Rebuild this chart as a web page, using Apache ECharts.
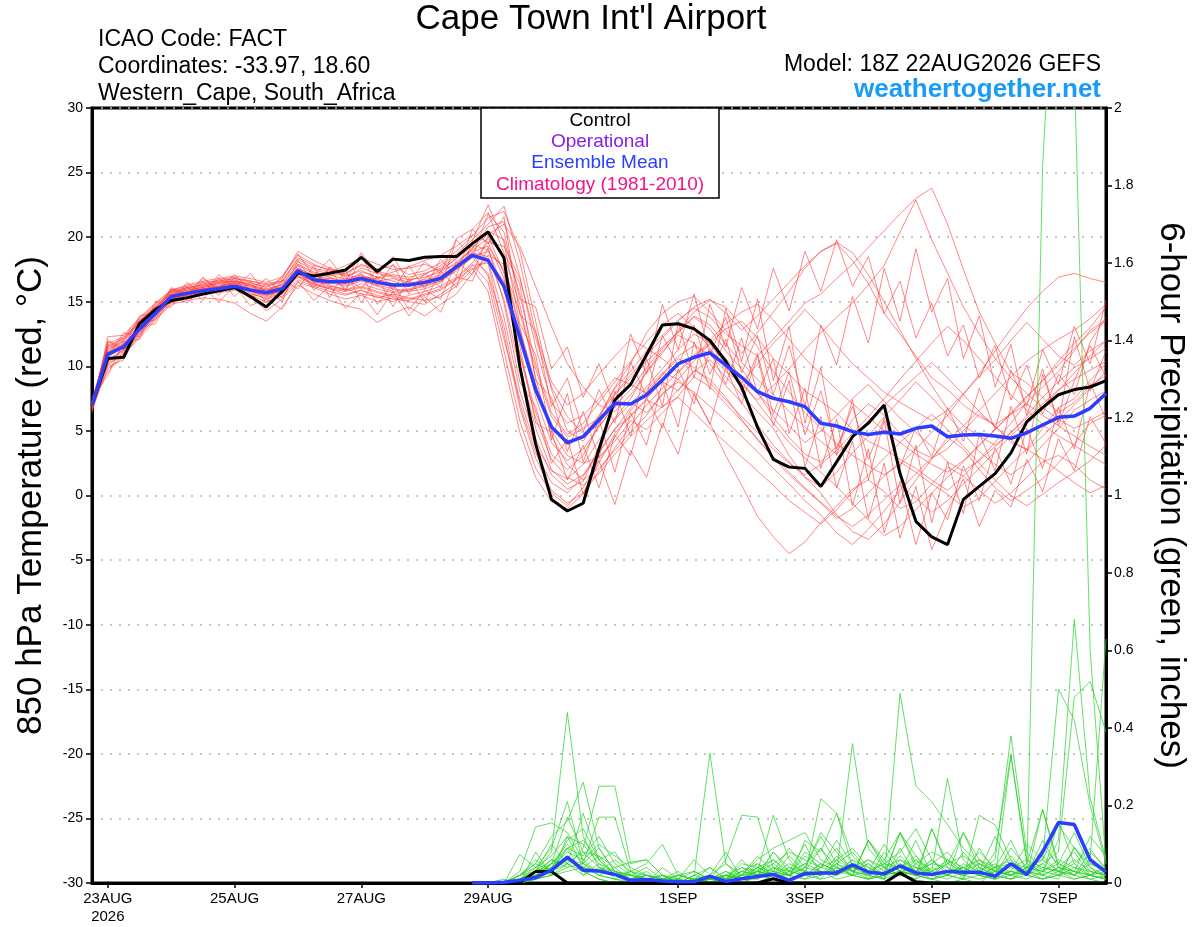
<!DOCTYPE html>
<html>
<head>
<meta charset="utf-8">
<title>Cape Town Int'l Airport - GEFS</title>
<script src="https://cdn.jsdelivr.net/npm/echarts@6/dist/echarts.min.js"></script>
<style>
  html, body { margin: 0; padding: 0; background: #fff; }
  #chart { width: 1200px; height: 927px; }
</style>
</head>
<body>
<div id="chart"></div>
<script>
// x = 6-hourly step, step 0 = 18Z 22AUG2026
var tickSteps = [1, 9, 17, 25, 37, 45, 53, 61];
var tickLabels = ['23AUG\n2026', '25AUG', '27AUG', '29AUG', '1SEP', '3SEP', '5SEP', '7SEP'];

// 850 hPa temperature, control run and ensemble mean (steps 0..64)
var controlTemp = [7.0, 10.6, 10.7, 13.3, 14.4, 15.1, 15.3, 15.6, 15.85, 16.1, 15.4, 14.6, 15.8,
  17.25, 17.0, 17.2, 17.46, 18.44, 17.33, 18.3, 18.2, 18.44, 18.5, 18.5, 19.5, 20.4, 18.4,
  10.0, 4.0, -0.3, -1.2, -0.6, 3.6, 7.4, 8.6, 10.9, 13.2, 13.3, 12.9, 12.0, 10.4,
  8.4, 5.3, 2.8, 2.2, 2.1, 0.7, 2.6, 4.55, 5.6, 7.0, 1.7, -2.0, -3.2, -3.8, -0.3, 0.7, 1.7, 3.3, 5.7, 6.8, 7.8, 8.2, 8.4, 8.9];
var meanTemp = [7.0, 10.95, 11.5, 12.9, 14.1, 15.4, 15.65, 15.86, 16.0, 16.2, 15.9, 15.7, 16.0,
  17.4, 16.7, 16.55, 16.55, 16.8, 16.5, 16.3, 16.3, 16.5, 16.8, 17.7, 18.6, 18.2, 16.2,
  12.3, 8.2, 5.3, 4.1, 4.55, 5.85, 7.14, 7.08, 7.78, 8.94, 10.2, 10.7, 11.05, 10.1,
  9.15, 8.04, 7.52, 7.26, 6.88, 5.59, 5.38, 4.94, 4.73, 4.89, 4.76, 5.2, 5.38, 4.55, 4.68, 4.73, 4.6, 4.43, 4.86, 5.46, 6.05, 6.15, 6.75, 7.9];

// individual ensemble members, temperature (steps 0..64)
var memberTemp = [
  [6.8, 11.2, 12.0, 13.5, 14.6, 15.6, 15.9, 16.1, 16.3, 16.5, 16.2, 15.8, 16.4,
   17.8, 17.2, 16.9, 16.5, 17.3, 16.9, 16.6, 16.2, 16.8, 17.5, 18.3, 19.4, 19.0, 16.0,
   11.0, 6.5, 3.2, 2.0, 3.1, 5.5, 7.8, 9.1, 10.4, 11.5, 12.6, 13.8, 12.9, 11.2,
   9.8, 8.0, 6.1, 4.5, 3.2, 2.6, 3.8, 5.9, 7.1, 6.2, 4.8, 3.5, 2.9, 3.6, 5.0, 6.3, 5.4, 4.1, 3.6, 5.2, 6.8, 7.5, 8.9, 10.2],
  [7.2, 10.4, 11.3, 12.6, 13.9, 15.2, 15.4, 15.7, 15.8, 16.0, 15.6, 15.3, 15.7,
   17.0, 16.4, 16.1, 15.9, 16.2, 15.8, 15.5, 15.9, 16.2, 16.6, 17.4, 18.5, 18.9, 17.6,
   14.2, 9.8, 6.1, 4.5, 5.2, 6.0, 8.3, 9.6, 11.2, 12.4, 13.6, 14.5, 13.8, 12.5,
   11.6, 10.8, 12.1, 13.5, 14.9, 15.6, 16.8, 17.9, 19.2, 20.5, 21.8, 23.0, 23.8, 21.0, 17.5, 14.2, 11.8, 9.5, 8.7, 7.6, 6.4, 7.2, 8.5, 9.3],
  [7.0, 10.9, 11.6, 13.1, 14.3, 15.5, 15.8, 16.0, 16.2, 16.4, 16.0, 15.5, 15.9,
   17.5, 16.8, 16.5, 16.2, 16.6, 16.3, 16.0, 15.8, 16.0, 16.5, 17.6, 18.8, 18.5, 15.2,
   9.8, 5.2, 2.0, 0.9, 1.6, 3.4, 5.1, 6.8, 8.2, 9.5, 9.0, 7.8, 5.6, 3.1,
   0.8, -1.6, -3.2, -4.5, -3.6, -2.1, -0.8, 0.5, 1.2, 0.3, -1.0, -0.5, 0.9, 2.2, 1.5, 0.4, -0.6, 0.2, 1.4, 2.6, 3.1, 2.4, 1.2, 0.5],
  [6.6, 12.3, 12.4, 13.8, 14.9, 15.9, 16.2, 16.5, 16.6, 16.8, 16.5, 16.1, 16.8,
   18.9, 18.2, 17.6, 17.2, 17.9, 17.5, 17.8, 17.1, 17.4, 18.0, 18.9, 20.1, 21.5, 22.0,
   19.0, 13.5, 8.2, 5.0, 4.2, 6.1, 8.4, 10.2, 12.6, 14.1, 15.0, 15.4, 14.2, 12.8,
   11.0, 12.6, 14.2, 15.8, 17.6, 18.9, 19.5, 18.2, 16.4, 14.1, 12.5, 10.8, 9.1, 8.2, 7.0, 6.1, 5.5, 6.3, 7.6, 8.9, 10.4, 11.8, 13.0, 14.6],
  [7.4, 9.6, 10.8, 12.4, 13.8, 15.1, 15.5, 15.8, 16.1, 16.3, 15.4, 14.3, 15.2,
   16.5, 16.1, 15.6, 15.2, 15.5, 15.0, 15.3, 15.0, 14.8, 15.6, 16.4, 17.8, 18.0, 12.5,
   6.8, 2.9, 0.4, -0.6, 0.2, 2.5, 4.8, 6.2, 7.5, 8.8, 8.1, 9.6, 10.5, 9.2,
   7.8, 6.5, 5.2, 3.1, 1.4, 0.2, -1.5, -2.8, -3.4, -2.2, -0.5, 1.2, 2.8, 4.5, 3.6, 2.0, 0.6, -0.4, 0.4, 1.3, 2.5, 4.0, 5.6, 6.2],
  [7.0, 11.6, 12.2, 13.3, 14.5, 15.7, 16.0, 16.4, 16.7, 16.9, 16.6, 16.4, 16.6,
   18.3, 17.6, 17.3, 17.8, 18.4, 17.9, 17.5, 17.6, 17.9, 17.4, 17.9, 19.1, 20.8, 21.2,
   17.0, 11.5, 7.2, 5.6, 6.2, 7.5, 9.1, 8.6, 7.9, 9.4, 10.8, 11.6, 10.9, 9.6,
   8.7, 10.2, 11.8, 13.0, 14.4, 13.1, 11.6, 10.2, 9.1, 8.0, 7.2, 6.5, 5.8, 6.6, 7.9, 9.2, 10.5, 12.0, 13.4, 12.1, 10.8, 10.1, 11.2, 12.0],
  [6.9, 10.2, 11.0, 12.8, 14.0, 15.3, 15.6, 15.9, 16.2, 16.5, 16.1, 15.8, 16.2,
   17.1, 16.6, 16.2, 16.0, 15.6, 15.4, 15.0, 15.5, 15.8, 16.2, 16.9, 18.0, 19.6, 19.3,
   16.8, 12.2, 8.4, 6.1, 4.8, 5.4, 6.9, 7.2, 6.4, 7.8, 9.0, 10.4, 11.8, 12.9,
   13.5, 12.2, 10.6, 9.4, 8.1, 7.3, 6.4, 5.1, 4.2, 3.6, 2.8, 2.1, 1.2, 0.4, 1.5, 2.8, 4.1, 5.6, 7.2, 8.4, 9.6, 11.2, 12.8, 13.6],
  [7.1, 11.0, 11.8, 13.0, 14.2, 15.4, 15.7, 16.2, 16.5, 16.7, 16.3, 15.9, 16.3,
   17.6, 17.0, 16.7, 16.4, 16.9, 16.8, 17.1, 16.9, 17.2, 17.6, 18.5, 19.3, 18.2, 13.8,
   8.1, 4.4, 1.6, 0.5, 1.1, 3.8, 6.0, 7.5, 9.6, 11.2, 12.4, 11.8, 10.2, 8.5,
   7.2, 5.5, 3.9, 2.6, 1.4, 0.7, 1.8, 3.3, 4.6, 6.1, 7.4, 8.8, 7.6, 6.2, 4.8, 3.4, 2.4, 1.6, 2.5, 3.9, 5.2, 6.6, 7.4, 8.1],
  [6.7, 9.8, 10.9, 12.2, 13.6, 14.8, 15.1, 15.3, 15.2, 14.9, 14.1, 13.5, 14.6,
   16.3, 15.6, 15.1, 14.7, 14.4, 13.4, 14.1, 14.6, 13.9, 14.8, 15.6, 17.2, 18.6, 17.9,
   13.0, 8.6, 5.0, 3.1, 2.5, 3.0, 4.2, 5.8, 5.1, 6.4, 7.7, 9.2, 8.4, 7.1,
   5.8, 4.4, 2.9, 1.6, 0.5, -0.6, -1.8, -1.0, 0.2, 1.5, 2.6, 1.8, 0.9, 0.1, -0.9, -0.2, 1.1, 2.4, 3.6, 2.8, 1.9, 1.0, 0.2, 0.8],
  [7.3, 11.4, 12.1, 13.6, 14.7, 15.8, 16.1, 16.3, 16.5, 16.6, 16.4, 16.2, 16.5,
   18.1, 17.5, 17.1, 16.7, 17.1, 16.6, 16.8, 16.4, 16.7, 17.1, 18.1, 19.0, 19.9, 18.6,
   14.8, 9.1, 4.6, 2.4, 1.2, 2.1, 3.5, 4.9, 6.2, 7.9, 8.8, 8.0, 6.9, 5.8,
   4.6, 3.4, 2.1, 0.9, -0.4, -1.5, -2.9, -3.8, -2.6, -1.2, 0.4, 1.7, 2.9, 4.2, 5.4, 6.6, 7.9, 9.2, 10.4, 11.3, 12.1, 12.8, 13.7, 14.8],
  [6.8, 10.7, 11.5, 12.9, 14.2, 15.3, 15.6, 15.9, 16.0, 16.1, 15.8, 15.5, 15.8,
   17.2, 16.5, 16.4, 16.8, 17.6, 17.2, 16.9, 16.5, 16.2, 16.9, 17.8, 18.7, 17.0, 12.1,
   7.5, 3.8, 1.9, 1.3, 2.4, 4.3, 5.9, 7.1, 8.4, 9.8, 11.3, 12.5, 11.8, 10.6,
   9.2, 7.9, 6.6, 5.4, 4.1, 5.0, 6.2, 7.5, 8.6, 7.3, 6.0, 4.9, 3.8, 2.6, 1.9, 2.7, 3.8, 4.9, 6.0, 7.1, 8.2, 9.0, 9.7, 10.4],
  [7.0, 11.1, 11.9, 13.2, 14.4, 15.6, 15.9, 16.1, 16.4, 16.6, 16.2, 15.9, 16.1,
   17.4, 16.9, 16.6, 16.3, 16.7, 16.2, 15.8, 16.0, 16.4, 16.8, 17.9, 19.2, 20.2, 21.0,
   19.3, 16.2, 13.1, 10.2, 8.4, 7.0, 6.5, 7.8, 9.5, 11.0, 12.8, 14.2, 15.1, 14.6,
   13.2, 11.5, 9.6, 8.0, 6.4, 5.2, 4.0, 3.1, 2.3, 1.6, 2.4, 3.6, 4.9, 6.2, 7.8, 9.4, 11.2, 12.9, 14.5, 15.8, 16.9, 17.2, 16.8, 16.5],
  [6.9, 10.5, 11.3, 12.7, 14.0, 15.2, 15.5, 15.8, 15.9, 16.1, 15.7, 15.2, 15.6,
   16.9, 16.3, 16.0, 15.8, 16.1, 15.7, 15.4, 15.2, 15.6, 16.0, 16.8, 17.9, 16.5, 11.2,
   5.8, 2.1, 0.2, -0.8, 0.6, 2.8, 4.5, 6.6, 8.0, 9.3, 10.6, 9.9, 8.7, 7.4,
   6.1, 4.9, 3.6, 2.5, 1.6, 2.4, 3.5, 4.8, 6.1, 7.5, 9.0, 10.4, 11.8, 13.1, 12.0, 10.6, 9.2, 7.8, 6.6, 5.5, 4.6, 3.9, 3.1, 2.4],
  [7.2, 11.8, 12.3, 13.7, 14.8, 15.9, 16.3, 16.6, 16.8, 17.0, 16.8, 16.5, 16.9,
   18.6, 17.9, 17.4, 17.0, 17.4, 16.9, 17.3, 17.7, 18.2, 18.6, 19.3, 20.2, 19.6, 16.8,
   12.4, 8.0, 5.3, 3.9, 4.6, 6.2, 7.9, 9.3, 10.8, 12.2, 13.5, 14.6, 15.2, 14.1,
   12.8, 13.9, 15.2, 16.5, 17.8, 18.9, 19.6, 18.8, 17.1, 15.0, 12.8, 10.6, 8.5, 6.7, 5.4, 4.6, 3.9, 4.8, 6.2, 7.6, 8.8, 9.9, 10.6, 11.4],
  [6.6, 10.1, 11.0, 12.5, 13.7, 14.9, 15.3, 15.6, 15.7, 15.9, 15.5, 15.0, 15.4,
   16.7, 16.2, 15.8, 15.5, 15.9, 15.3, 15.6, 15.3, 15.1, 15.4, 16.2, 17.5, 18.2, 16.6,
   10.9, 6.0, 2.8, 1.4, 0.8, 1.7, 3.2, 4.6, 5.8, 6.9, 7.6, 6.4, 5.2, 4.1,
   3.0, 1.9, 0.8, -0.4, -1.3, -2.2, -1.1, 0.3, 1.6, 2.9, 4.1, 5.2, 6.3, 5.1, 3.8, 2.5, 1.2, 0.0, -0.8, 0.1, 1.0, 1.8, 2.7, 3.9],
  [7.5, 11.3, 12.0, 13.4, 14.5, 15.7, 16.0, 16.2, 16.4, 16.6, 16.3, 16.0, 16.3,
   17.9, 17.3, 17.0, 17.2, 17.8, 17.4, 17.0, 16.7, 16.9, 17.3, 18.4, 19.6, 20.5, 19.8,
   15.6, 10.2, 6.4, 4.7, 5.6, 7.2, 8.8, 10.4, 11.9, 13.2, 14.1, 13.0, 11.4, 9.9,
   8.6, 7.4, 8.5, 9.8, 11.3, 12.6, 13.8, 14.9, 16.3, 17.8, 20.4, 22.9, 19.8, 17.2, 14.6, 12.5, 10.6, 9.1, 7.9, 6.8, 5.9, 5.2, 5.8, 6.5],
  [7.0, 10.8, 11.7, 13.0, 14.3, 15.4, 15.7, 16.0, 16.1, 16.3, 15.9, 15.6, 16.0,
   17.3, 16.7, 16.3, 15.9, 16.4, 16.0, 15.7, 15.9, 16.3, 16.6, 17.5, 18.4, 17.2, 13.1,
   7.1, 3.3, 1.0, 0.2, 1.5, 3.3, 5.2, 6.1, 7.4, 6.8, 8.2, 9.7, 9.0, 7.6,
   5.9, 4.3, 3.0, 1.8, 0.6, -0.5, -1.6, -2.4, -1.5, -0.3, 0.8, -0.2, -1.3, -0.4, 0.9, 2.1, 3.4, 4.6, 5.8, 6.9, 8.1, 9.5, 10.8, 12.0],
  [6.8, 11.5, 12.2, 13.5, 14.6, 15.8, 16.1, 16.3, 16.6, 16.8, 16.6, 16.3, 16.6,
   18.4, 17.8, 17.5, 17.1, 16.8, 16.5, 16.1, 16.6, 17.1, 17.8, 18.7, 19.8, 21.0, 22.4,
   18.1, 12.6, 8.8, 7.0, 7.9, 9.4, 10.8, 12.1, 11.4, 10.6, 9.5, 10.7, 12.0, 13.3,
   14.2, 14.8, 13.6, 12.1, 10.6, 9.4, 8.2, 7.1, 6.1, 5.0, 4.1, 3.2, 2.4, 1.8, 2.7, 3.9, 5.1, 6.3, 7.1, 6.2, 5.4, 4.6, 3.8, 3.1],
  [7.1, 10.3, 11.2, 12.6, 13.9, 15.0, 15.4, 15.7, 15.9, 16.2, 15.8, 15.4, 15.9,
   17.0, 16.4, 16.0, 15.6, 15.9, 15.5, 15.2, 15.1, 15.5, 15.9, 16.7, 17.6, 15.8, 10.3,
   4.9, 1.4, -0.5, -1.0, 0.1, 1.9, 3.7, 5.4, 7.0, 8.3, 9.6, 10.9, 11.7, 10.2,
   8.8, 7.2, 5.6, 4.1, 2.9, 1.8, 0.7, -0.6, -1.9, -3.1, -2.4, -1.1, 0.2, 1.4, 2.6, 3.9, 5.1, 6.4, 7.7, 8.9, 10.1, 11.4, 12.6, 13.5],
  [6.9, 11.0, 11.7, 13.1, 14.4, 15.5, 15.8, 16.0, 16.2, 16.4, 16.0, 15.7, 16.1,
   17.6, 17.0, 16.8, 16.6, 17.0, 16.7, 16.4, 16.2, 16.6, 17.0, 17.8, 18.9, 19.3, 17.4,
   12.9, 7.6, 4.1, 2.7, 3.6, 5.3, 7.0, 8.2, 9.9, 11.4, 12.7, 13.9, 13.2, 11.7,
   10.3, 9.0, 7.8, 6.5, 5.3, 4.2, 3.2, 4.5, 5.8, 7.0, 8.1, 9.2, 10.3, 9.1, 7.8, 6.5, 5.3, 4.3, 3.5, 4.6, 5.8, 7.0, 8.3, 9.6],
  [6.5, 12.0, 11.4, 13.9, 14.2, 16.0, 15.5, 16.8, 16.0, 17.1, 15.9, 16.8, 15.6,
   18.2, 16.4, 17.6, 15.8, 18.6, 16.2, 17.9, 15.6, 17.2, 16.1, 19.8, 18.4, 21.8, 20.4,
   15.2, 14.6, 9.8, 11.5, 7.6, 10.2, 6.8, 12.5, 9.4, 14.8, 11.3, 15.6, 10.9, 13.8,
   9.5, 12.4, 7.8, 11.6, 6.9, 13.2, 10.1, 15.4, 11.8, 17.6, 13.5, 19.1, 14.2, 16.8, 10.6, 13.9, 8.4, 11.7, 6.2, 9.8, 5.4, 8.9, 11.6, 9.2],
  [7.6, 9.3, 11.9, 12.1, 14.6, 14.6, 16.2, 15.1, 16.9, 15.4, 16.6, 14.9, 16.7,
   16.0, 17.8, 15.3, 17.5, 14.9, 17.0, 14.6, 16.8, 15.0, 17.4, 16.1, 19.7, 22.5, 19.6,
   13.3, 10.9, 4.3, 7.9, 2.6, 5.9, 1.8, 6.4, 3.9, 8.8, 5.3, 11.9, 8.2, 14.5,
   10.4, 15.2, 8.9, 13.1, 5.6, 9.9, 3.1, 7.4, 1.2, 5.8, -0.6, 3.9, -2.1, 2.6, -1.4, 4.8, 1.9, 6.9, 3.2, 9.4, 5.7, 12.3, 8.1, 11.2],
  [7.1, 11.9, 11.2, 13.4, 13.6, 15.9, 15.2, 16.6, 15.5, 16.9, 15.2, 16.0, 15.0,
   17.9, 15.9, 16.9, 16.0, 17.2, 14.8, 16.4, 14.4, 15.9, 15.2, 18.1, 17.1, 20.1, 17.2,
   11.6, 5.6, 4.9, 1.2, 3.9, 0.6, 4.7, 3.1, 7.6, 5.2, 9.8, 7.1, 11.3, 8.6,
   12.2, 7.9, 10.6, 4.8, 8.3, 2.1, 5.9, -0.8, 3.6, -2.9, 1.1, -3.8, 0.2, -1.9, 2.3, -0.4, 3.7, 0.9, 5.2, 2.1, 6.8, 3.6, 8.7, 5.9],
  [6.4, 10.8, 12.6, 12.3, 15.0, 14.9, 16.5, 15.6, 17.1, 16.1, 17.2, 15.6, 17.0,
   18.7, 17.0, 18.3, 16.6, 18.8, 17.1, 18.5, 16.5, 18.1, 17.2, 19.9, 20.6, 21.9, 18.8,
   16.4, 8.9, 7.6, 3.4, 6.5, 2.9, 8.1, 4.6, 10.6, 6.9, 13.4, 9.1, 14.8, 11.5,
   16.1, 12.9, 17.6, 14.3, 18.9, 15.8, 19.8, 16.2, 18.5, 14.1, 16.6, 12.2, 14.9, 10.8, 13.2, 9.1, 11.6, 7.4, 10.1, 6.3, 9.4, 7.8, 11.9, 13.8],
  [7.3, 10.0, 10.5, 13.0, 13.3, 15.5, 14.9, 16.1, 15.0, 16.2, 14.7, 15.2, 14.4,
   16.6, 15.1, 16.2, 14.5, 15.7, 14.0, 15.8, 13.9, 15.4, 14.2, 16.9, 16.6, 19.2, 14.9,
   8.8, 6.9, 2.5, 4.4, 0.1, 2.7, -0.7, 3.5, 1.4, 5.6, 3.2, 7.9, 5.5, 9.9,
   7.1, 10.8, 5.4, 8.9, 2.2, 6.1, 0.6, 4.2, -1.8, 2.5, -3.3, 0.7, -4.2, -1.2, 1.3, -2.4, 0.4, -0.9, 2.8, 0.3, 4.4, 1.9, 6.1, 4.0],
  [6.7, 11.7, 11.0, 13.6, 14.0, 16.1, 15.4, 16.9, 15.8, 16.5, 15.3, 16.4, 15.3,
   17.3, 16.1, 17.7, 16.9, 16.0, 17.6, 15.9, 17.8, 16.0, 18.3, 17.0, 20.6, 19.5, 21.6,
   14.0, 12.8, 6.9, 9.1, 4.9, 8.2, 5.6, 10.3, 7.7, 12.4, 10.0, 13.2, 9.4, 12.1,
   8.0, 11.0, 6.3, 9.6, 4.7, 8.1, 3.6, 6.9, 2.8, 6.0, 2.2, 5.3, 3.0, 6.8, 4.2, 8.3, 5.1, 9.7, 6.9, 11.3, 8.6, 13.1, 10.2, 15.1]
];

// 6-hour precipitation (inches), steps 24..64 (all zero before)
var precipStart = 24;
var controlPrecip = [0, 0, 0, 0, 0.03, 0.03, 0, 0, 0, 0,
  0, 0, 0, 0, 0, 0, 0, 0, 0, 0.011,
  0, 0, 0, 0, 0, 0, 0, 0.026, 0.003, 0,
  0, 0, 0, 0, 0, 0, 0, 0, 0, 0, 0];
var meanPrecip = [0, 0, 0.002, 0.007, 0.014, 0.033, 0.067, 0.033, 0.031, 0.022,
  0.007, 0.009, 0.005, 0.003, 0.003, 0.017, 0.004, 0.011, 0.017, 0.022,
  0.007, 0.024, 0.026, 0.026, 0.047, 0.028, 0.024, 0.044, 0.026, 0.022,
  0.030, 0.028, 0.028, 0.017, 0.05, 0.022, 0.08, 0.156, 0.151, 0.06, 0.028];
var memberPrecip = [
  [0, 0, 0, 0.01, 0.03, 0.08, 0.44, 0.12, 0.04, 0.02, 0.01, 0, 0, 0, 0.01, 0.02, 0, 0.01, 0.03, 0.05,
   0.02, 0.04, 0.13, 0.08, 0.03, 0.01, 0.02, 0.05, 0.03, 0.01, 0, 0.01, 0.02, 0.04, 0.11, 0.03, 0.01, 0.02, 0.09, 0.04, 0.01],
  [0, 0, 0, 0.02, 0.05, 0.12, 0.16, 0.26, 0.09, 0.03, 0.01, 0.02, 0, 0.01, 0, 0, 0.01, 0, 0.02, 0.03,
   0.01, 0.11, 0.08, 0.18, 0.04, 0.02, 0.01, 0.03, 0.02, 0.01, 0.02, 0.01, 0, 0.03, 0.02, 0.05, 0.19, 0.04, 0.02, 0.01, 0],
  [0, 0, 0, 0, 0.02, 0.06, 0.04, 0.09, 0.25, 0.25, 0.05, 0.06, 0.02, 0, 0.01, 0, 0.02, 0.04, 0.03, 0.02,
   0.01, 0.02, 0.05, 0.03, 0.36, 0.09, 0.04, 0.02, 0.01, 0.03, 0.06, 0.04, 0.02, 0.01, 0.03, 0.02, 0.05, 0.08, 0.48, 0.52, 0.39],
  [0, 0, 0, 0.01, 0.04, 0.09, 0.21, 0.05, 0.17, 0.17, 0.03, 0.01, 0, 0, 0.02, 0.04, 0.01, 0.03, 0.02, 0.08,
   0.04, 0.02, 0.01, 0.06, 0.09, 0.04, 0.02, 0.13, 0.05, 0.02, 0.01, 0.03, 0.06, 0.02, 0.01, 0.04, 0.03, 0.11, 0.68, 0.22, 0.06],
  [0, 0, 0, 0.03, 0.145, 0.155, 0.13, 0.06, 0.02, 0.01, 0, 0.01, 0.02, 0, 0, 0.01, 0.03, 0.01, 0.04, 0.02,
   0.01, 0.03, 0.02, 0.05, 0.02, 0.11, 0.04, 0.02, 0.01, 0.14, 0.05, 0.13, 0.04, 0.02, 0.01, 0.02, 0.04, 0.03, 0.02, 0.05, 0.03],
  [0, 0, 0, 0, 0.01, 0.03, 0.07, 0.03, 0.01, 0, 0, 0.01, 0.02, 0, 0.02, 0.335, 0.05, 0.01, 0, 0.02,
   0.04, 0.03, 0.01, 0.02, 0.05, 0.03, 0.01, 0.49, 0.25, 0.21, 0.15, 0.09, 0.05, 0.03, 0.02, 0.04, 0.06, 0.03, 0.01, 0.02, 0.01],
  [0, 0, 0, 0, 0.02, 0.04, 0.11, 0.14, 0.06, 0.02, 0.01, 0, 0, 0.01, 0.03, 0.01, 0.06, 0.175, 0.17, 0.04,
   0.02, 0.01, 0.02, 0.04, 0.02, 0.01, 0.03, 0.02, 0.06, 0.03, 0.27, 0.06, 0.02, 0.01, 0.33, 0.05, 0.02, 0.04, 0.03, 0.01, 0.02],
  [0, 0, 0, 0.01, 0.02, 0.05, 0.09, 0.07, 0.12, 0.05, 0.02, 0.01, 0.01, 0, 0, 0.01, 0.02, 0.01, 0.03, 0.175,
   0.06, 0.02, 0.218, 0.18, 0.07, 0.03, 0.02, 0.04, 0.02, 0.01, 0.02, 0.01, 0.175, 0.15, 0.06, 0.02, 0.01, 0.03, 0.05, 0.02, 0.01],
  [0, 0, 0, 0.02, 0.05, 0.03, 0.06, 0.04, 0.03, 0.06, 0.03, 0.05, 0.1, 0.02, 0.01, 0, 0.01, 0.02, 0.04, 0.03,
   0.02, 0.05, 0.03, 0.01, 0.02, 0.11, 0.06, 0.03, 0.02, 0.04, 0.02, 0.05, 0.03, 0.06, 0.38, 0.08, 0.03, 0.02, 0.01, 0.02, 0.04],
  [0, 0, 0, 0.01, 0.03, 0.06, 0.05, 0.08, 0.07, 0.04, 0.054, 0.06, 0.02, 0.01, 0, 0.02, 0.01, 0.03, 0.05, 0.02,
   0.01, 0.03, 0.02, 0.05, 0.03, 0.02, 0.06, 0.13, 0.04, 0.02, 0.03, 0.02, 0.04, 0.02, 0.01, 0.03, 0.02, 0.01, 0.093, 0.03, 0.02],
  [0, 0, 0, 0.073, 0.04, 0.02, 0.05, 0.03, 0.01, 0, 0.01, 0, 0.01, 0.02, 0.01, 0, 0.02, 0.01, 0.01, 0.03,
   0.02, 0.01, 0.04, 0.03, 0.02, 0.01, 0.02, 0.03, 0.02, 0.14, 0.04, 0.02, 0.01, 0.02, 0.03, 0.02, 1.85, 2.6, 2.1, 0.6, 0.05],
  [0, 0, 0, 0, 0.01, 0.02, 0.04, 0.05, 0.09, 0.03, 0.02, 0.01, 0, 0, 0.01, 0.02, 0.01, 0.02, 0.06, 0.09,
   0.11, 0.13, 0.06, 0.04, 0.02, 0.11, 0.05, 0.03, 0.02, 0.01, 0.03, 0.04, 0.02, 0.01, 0.02, 0.03, 0.05, 0.02, 0.04, 0.03, 0.02],
  [0, 0, 0, 0.02, 0.04, 0.07, 0.12, 0.1, 0.05, 0.03, 0.01, 0.02, 0.01, 0, 0, 0.01, 0, 0.01, 0.02, 0.01,
   0.03, 0.02, 0.05, 0.03, 0.06, 0.04, 0.02, 0.13, 0.07, 0.03, 0.02, 0.13, 0.06, 0.04, 0.03, 0.02, 0.01, 0.02, 0.03, 0.02, 0.03],
  [0, 0, 0, 0, 0.01, 0.04, 0.08, 0.06, 0.1, 0.07, 0.04, 0.02, 0.01, 0.01, 0, 0.01, 0.02, 0.01, 0.03, 0.06,
   0.03, 0.05, 0.09, 0.04, 0.02, 0.03, 0.05, 0.08, 0.14, 0.06, 0.03, 0.04, 0.02, 0.08, 0.33, 0.06, 0.04, 0.03, 0.02, 0.08, 0.04],
  [0, 0, 0, 0.01, 0.02, 0.03, 0.05, 0.02, 0.04, 0.02, 0.02, 0.01, 0, 0, 0.01, 0, 0.01, 0.04, 0.02, 0.05,
   0.08, 0.06, 0.04, 0.11, 0.05, 0.02, 0.01, 0.06, 0.04, 0.03, 0.05, 0.07, 0.04, 0.02, 0.03, 0.1, 0.06, 0.15, 0.09, 0.05, 0.03],
  [0, 0, 0, 0, 0.02, 0.03, 0.06, 0.05, 0.03, 0.02, 0.01, 0, 0.01, 0.02, 0.03, 0.01, 0, 0.02, 0.01, 0.04,
   0.02, 0.08, 0.05, 0.03, 0.04, 0.06, 0.03, 0.02, 0.05, 0.08, 0.06, 0.03, 0.02, 0.04, 0.05, 0.03, 0.02, 0.04, 0.03, 0.12, 0.07],
  [0, 0, 0, 0.02, 0.03, 0.05, 0.17, 0.08, 0.04, 0.03, 0.02, 0.01, 0, 0.01, 0, 0.01, 0.01, 0.05, 0.04, 0.02,
   0.01, 0.02, 0.04, 0.06, 0.03, 0.02, 0.04, 0.06, 0.03, 0.05, 0.04, 0.02, 0.03, 0.05, 0.02, 0.01, 0.03, 0.06, 0.04, 0.02, 0.01],
  [0, 0, 0, 0, 0.01, 0.02, 0.03, 0.04, 0.02, 0.01, 0.01, 0, 0, 0, 0.01, 0, 0.01, 0.02, 0.03, 0.02,
   0.05, 0.03, 0.02, 0.04, 0.03, 0.06, 0.04, 0.02, 0.03, 0.06, 0.02, 0.04, 0.06, 0.03, 0.02, 0.04, 0.03, 0.05, 0.02, 0.06, 0.63],
  [0, 0, 0, 0.01, 0.03, 0.04, 0.09, 0.11, 0.06, 0.02, 0.03, 0.02, 0.01, 0, 0.01, 0.02, 0, 0.03, 0.02, 0.04,
   0.03, 0.02, 0.03, 0.02, 0.04, 0.03, 0.05, 0.04, 0.06, 0.02, 0.03, 0.02, 0.05, 0.03, 0.04, 0.02, 0.19, 0.05, 0.03, 0.02, 0.01],
  [0, 0, 0, 0, 0.02, 0.05, 0.06, 0.04, 0.03, 0.02, 0.01, 0.01, 0.02, 0, 0, 0.01, 0.02, 0.01, 0.03, 0.02,
   0.02, 0.04, 0.03, 0.02, 0.04, 0.03, 0.02, 0.03, 0.04, 0.02, 0.03, 0.04, 0.02, 0.03, 0.05, 0.04, 0.06, 0.5, 0.42, 0.2, 0.05],
  [0, 0, 0, 0.02, 0.06, 0.03, 0.09, 0.02, 0.05, 0.01, 0.03, 0, 0.04, 0.01, 0.06, 0.02, 0.08, 0.01, 0.05, 0.02,
   0.07, 0.03, 0.09, 0.02, 0.06, 0.01, 0.08, 0.03, 0.11, 0.02, 0.06, 0.01, 0.09, 0.03, 0.07, 0.02, 0.11, 0.04, 0.08, 0.02, 0.05],
  [0, 0, 0.01, 0, 0.08, 0.02, 0.12, 0.04, 0.07, 0.02, 0.01, 0.03, 0, 0.02, 0.01, 0.04, 0.01, 0.06, 0.02, 0.08,
   0.03, 0.1, 0.02, 0.07, 0.03, 0.05, 0.01, 0.09, 0.02, 0.06, 0.02, 0.08, 0.03, 0.12, 0.04, 0.06, 0.02, 0.16, 0.05, 0.09, 0.03],
  [0, 0, 0, 0.01, 0.03, 0.1, 0.05, 0.18, 0.06, 0.08, 0.02, 0.04, 0.01, 0.03, 0, 0.02, 0.05, 0.02, 0.07, 0.03,
   0.09, 0.04, 0.12, 0.05, 0.08, 0.03, 0.1, 0.04, 0.07, 0.02, 0.05, 0.03, 0.08, 0.04, 0.06, 0.02, 0.09, 0.05, 0.13, 0.04, 0.02],
  [0, 0, 0, 0, 0.01, 0.05, 0.1, 0.05, 0.02, 0.04, 0.01, 0.02, 0.01, 0, 0.02, 0.01, 0.03, 0.01, 0.04, 0.06,
   0.02, 0.07, 0.04, 0.09, 0.03, 0.05, 0.02, 0.07, 0.03, 0.05, 0.08, 0.03, 0.05, 0.02, 0.09, 0.04, 0.07, 0.03, 0.06, 0.03, 0.02]
];

var FONT = '"Liberation Sans", Arial, Helvetica, sans-serif';

function toPoints(values, start) {
    return values.map(function (v, k) { return [start + k, v]; });
}

function lineSeries(name, values, start, yAxisIndex, color, width, z) {
    return {
        name: name,
        type: 'line',
        yAxisIndex: yAxisIndex,
        data: toPoints(values, start),
        symbol: 'none',
        silent: true,
        z: z,
        lineStyle: { color: color, width: width },
        animation: false
    };
}

var series = [];
memberTemp.forEach(function (m, i) {
    series.push(lineSeries('Member ' + (i + 1), m, 0, 0, 'rgba(255,55,55,0.75)', 0.8, 2));
});
memberPrecip.forEach(function (m, i) {
    series.push(lineSeries('Member precip ' + (i + 1), m, precipStart, 1, 'rgba(40,210,40,0.9)', 0.8, 3));
});
series.push(lineSeries('Control', controlTemp, 0, 0, '#000', 3, 5));
series.push(lineSeries('Ensemble Mean', meanTemp, 0, 0, '#2b3dff', 3.5, 6));
series.push(lineSeries('Control precip', controlPrecip, precipStart, 1, '#000', 3, 5));
series.push(lineSeries('Ensemble Mean precip', meanPrecip, precipStart, 1, '#2b3dff', 3.5, 6));

var chart = echarts.init(document.getElementById('chart'));

chart.setOption({
    backgroundColor: '#fff',
    animation: false,
    graphic: [
        { type: 'text', x: 591, y: 19, style: { text: "Cape Town Int'l Airport", font: '35px ' + FONT, fill: '#000', align: 'center', verticalAlign: 'middle' } },
        { type: 'text', x: 98, y: 40, style: { text: 'ICAO Code: FACT', font: '23px ' + FONT, fill: '#000', verticalAlign: 'middle' } },
        { type: 'text', x: 98, y: 67, style: { text: 'Coordinates: -33.97, 18.60', font: '23px ' + FONT, fill: '#000', verticalAlign: 'middle' } },
        { type: 'text', x: 98, y: 94, style: { text: 'Western_Cape, South_Africa', font: '23px ' + FONT, fill: '#000', verticalAlign: 'middle' } },
        { type: 'text', x: 1101, y: 65, style: { text: 'Model: 18Z 22AUG2026 GEFS', font: '23px ' + FONT, fill: '#000', align: 'right', verticalAlign: 'middle' } },
        { type: 'text', x: 1101, y: 90, style: { text: 'weathertogether.net', font: 'bold 26px ' + FONT, fill: '#1a9cf6', align: 'right', verticalAlign: 'middle' } },
        { type: 'rect', z: 50, shape: { x: 481, y: 108, width: 238, height: 90 }, style: { fill: '#fff', stroke: '#000', lineWidth: 1.5 } },
        { type: 'text', z: 51, x: 600, y: 121, style: { text: 'Control', font: '19px ' + FONT, fill: '#000', align: 'center', verticalAlign: 'middle' } },
        { type: 'text', z: 51, x: 600, y: 142, style: { text: 'Operational', font: '19px ' + FONT, fill: '#8a1fe0', align: 'center', verticalAlign: 'middle' } },
        { type: 'text', z: 51, x: 600, y: 163, style: { text: 'Ensemble Mean', font: '19px ' + FONT, fill: '#2b3dff', align: 'center', verticalAlign: 'middle' } },
        { type: 'text', z: 51, x: 600, y: 185, style: { text: 'Climatology (1981-2010)', font: '19px ' + FONT, fill: '#f0158a', align: 'center', verticalAlign: 'middle' } }
    ],
    grid: {
        left: 92, right: 94, top: 108, bottom: 44,
        show: true, borderColor: '#000', borderWidth: 3, backgroundColor: 'transparent'
    },
    xAxis: {
        type: 'value',
        min: 0,
        max: 64,
        axisLine: { show: true, onZero: false, lineStyle: { color: '#000', width: 3 } },
        axisTick: { show: true, customValues: tickSteps, length: 5, lineStyle: { color: '#000', width: 1.5 } },
        axisLabel: {
            customValues: tickSteps,
            margin: 7,
            color: '#000',
            fontFamily: FONT,
            fontSize: 15,
            lineHeight: 18,
            formatter: function (v) {
                var k = tickSteps.indexOf(Math.round(v));
                return k >= 0 ? tickLabels[k] : '';
            }
        },
        splitLine: { show: false }
    },
    yAxis: [{
        type: 'value',
        min: -30,
        max: 30,
        interval: 5,
        position: 'left',
        name: '850 hPa Temperature (red, \u00B0C)',
        nameLocation: 'middle',
        nameGap: 43,
        nameTextStyle: { fontFamily: FONT, fontSize: 35, color: '#000' },
        axisLine: { show: true, onZero: false, lineStyle: { color: '#000', width: 3 } },
        axisTick: { show: true, length: 6, lineStyle: { color: '#000', width: 1.5 } },
        axisLabel: { color: '#000', fontFamily: FONT, fontSize: 14, margin: 9 },
        splitLine: { show: true, lineStyle: { color: '#b4b4b4', width: 1.5, type: [2, 7] } }
    }, {
        type: 'value',
        min: 0,
        max: 2,
        interval: 0.2,
        position: 'right',
        name: '6-hour Precipitation (green, inches)',
        nameLocation: 'middle',
        nameRotate: -90,
        nameGap: 47,
        nameTextStyle: { fontFamily: FONT, fontSize: 35, color: '#000' },
        axisLine: { show: true, onZero: false, lineStyle: { color: '#000', width: 3 } },
        axisTick: { show: true, length: 6, lineStyle: { color: '#000', width: 1.5 } },
        axisLabel: {
            color: '#000', fontFamily: FONT, fontSize: 14, margin: 8,
            formatter: function (v) { return String(+v.toFixed(1)); }
        },
        splitLine: { show: false }
    }],
    series: series
});
</script>
</body>
</html>
